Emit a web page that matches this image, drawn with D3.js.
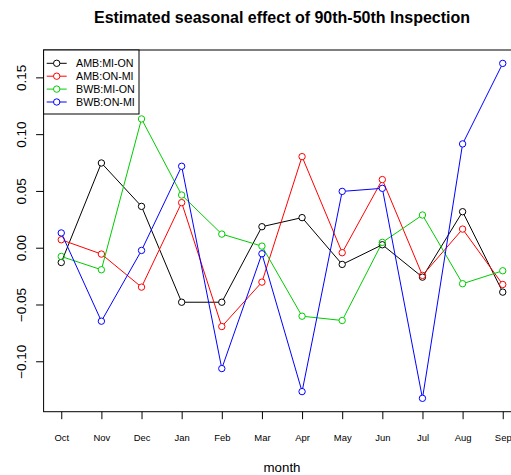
<!DOCTYPE html>
<html>
<head>
<meta charset="utf-8">
<script src="https://cdn.jsdelivr.net/npm/d3@7"></script>
<style>
  body { margin: 0; background: #fff; }
  text { font-family: "Liberation Sans", Arial, sans-serif; }
</style>
</head>
<body>
<div id="chart"></div>
<script>
// Chart data
var months = ["Oct", "Nov", "Dec", "Jan", "Feb", "Mar", "Apr", "May", "Jun", "Jul", "Aug", "Sep"];
var seriesNames = ["AMB:MI-ON", "AMB:ON-MI", "BWB:MI-ON", "BWB:ON-MI"];
var ambMiOn = [-0.013, 0.0746, 0.0364, -0.048, -0.048, 0.0185, 0.0265, -0.0147, 0.0026, -0.0259, 0.0317, -0.0391];
var ambOnMi = [0.007, -0.0056, -0.0347, 0.0397, -0.0694, -0.0303, 0.0802, -0.0044, 0.060, -0.0244, 0.0164, -0.0324];
var bwbMiOn = [-0.0077, -0.0194, 0.1134, 0.0464, 0.012, 0.0014, -0.0603, -0.0641, 0.0047, 0.0288, -0.0317, -0.0203];
var bwbOnMi = [0.013, -0.0647, -0.0024, 0.0717, -0.1064, -0.0053, -0.1267, 0.0496, 0.0523, -0.1326, 0.0914, 0.1623];
var yTicks = [-0.10, -0.05, 0.00, 0.05, 0.10, 0.15];
var colors = ["#000000", "#FF0000", "#00CD00", "#0000FF"];

var allSeries = [ambMiOn, ambOnMi, bwbMiOn, bwbOnMi];

// Chart parameters
var svgWidth = 511;
var svgHeight = 475;
var plot = {left: 43.6, right: 520.4, top: 50, bottom: 411.7};
var radius = 3.2;

var svg = d3.select("#chart")
    .append("svg")
    .attr("width", svgWidth)
    .attr("height", svgHeight);

// R-style axis ranges: pad data range by 4%
var xPad = (months.length - 1) * 0.04;
var xScale = d3.scaleLinear()
    .domain([1 - xPad, months.length + xPad])
    .range([plot.left, plot.right]);

var allValues = d3.merge(allSeries);
var yMin = d3.min(allValues), yMax = d3.max(allValues);
var yPad = (yMax - yMin) * 0.04;
var yScale = d3.scaleLinear()
    .domain([yMin - yPad, yMax + yPad])
    .range([plot.bottom, plot.top]);

// Lines (gaps around the points, like type = "b")
allSeries.forEach(function (vals, si) {
    var g = svg.append("g");
    for (var i = 0; i < vals.length - 1; i++) {
        var x1 = xScale(i + 1), y1 = yScale(vals[i]);
        var x2 = xScale(i + 2), y2 = yScale(vals[i + 1]);
        var len = Math.sqrt((x2 - x1) * (x2 - x1) + (y2 - y1) * (y2 - y1));
        if (len <= 2 * radius) continue;
        var ux = (x2 - x1) / len, uy = (y2 - y1) / len;
        g.append("line")
            .attr("x1", x1 + ux * radius)
            .attr("y1", y1 + uy * radius)
            .attr("x2", x2 - ux * radius)
            .attr("y2", y2 - uy * radius)
            .attr("stroke", colors[si])
            .attr("stroke-width", 1);
    }
    g.selectAll("circle")
        .data(vals)
        .enter()
        .append("circle")
        .attr("cx", (d, i) => xScale(i + 1))
        .attr("cy", d => yScale(d))
        .attr("r", radius)
        .attr("fill", "none")
        .attr("stroke", colors[si])
        .attr("stroke-width", 1);
});

// Plot box
svg.append("rect")
    .attr("x", plot.left)
    .attr("y", plot.top)
    .attr("width", plot.right - plot.left)
    .attr("height", plot.bottom - plot.top)
    .attr("fill", "none")
    .attr("stroke", "#000")
    .attr("stroke-width", 1);

// x axis
var bottomAxis = d3.axisBottom(xScale)
    .tickValues(d3.range(1, months.length + 1))
    .tickFormat(d => months[d - 1])
    .tickSize(7.5)
    .tickSizeOuter(0);

var xAxis = svg.append("g")
    .attr("transform", `translate(0, ${plot.bottom})`)
    .call(bottomAxis);
xAxis.select(".domain").remove();
xAxis.selectAll("text")
    .attr("dy", null)
    .attr("y", 29.3)
    .attr("fill", "#000")
    .style("font-family", "'Liberation Sans', Arial, sans-serif")
    .style("font-size", "9.45px");

// y axis
var leftAxis = d3.axisLeft(yScale)
    .tickValues(yTicks)
    .tickFormat(d3.format(".2f"))
    .tickSize(7.5)
    .tickSizeOuter(0);

var yAxis = svg.append("g")
    .attr("transform", `translate(${plot.left}, 0)`)
    .call(leftAxis);
yAxis.select(".domain").remove();
yAxis.selectAll("text")
    .attr("dy", null)
    .attr("x", null)
    .attr("y", 0)
    .attr("text-anchor", "middle")
    .attr("transform", `translate(${26.5 - plot.left}, 0) rotate(-90)`)
    .attr("fill", "#000")
    .style("font-family", "'Liberation Sans', Arial, sans-serif")
    .style("font-size", "13.5px");

// Title
svg.append("text")
    .attr("x", (plot.left + plot.right) / 2)
    .attr("y", 23)
    .attr("text-anchor", "middle")
    .style("font-weight", "bold")
    .style("font-size", "16px")
    .text("Estimated seasonal effect of 90th-50th Inspection");

// x label
svg.append("text")
    .attr("x", (plot.left + plot.right) / 2)
    .attr("y", 472)
    .attr("text-anchor", "middle")
    .style("font-size", "13.3px")
    .text("month");

// Legend
var legend = svg.append("g");
legend.append("rect")
    .attr("x", plot.left)
    .attr("y", plot.top)
    .attr("width", 139 - plot.left)
    .attr("height", 114 - plot.top)
    .attr("fill", "#fff")
    .attr("stroke", "#000")
    .attr("stroke-width", 1);

seriesNames.forEach(function (name, i) {
    var ly = 63.3 + i * 12.9;
    legend.append("line")
        .attr("x1", 46.7).attr("x2", 66.7)
        .attr("y1", ly).attr("y2", ly)
        .attr("stroke", colors[i]);
    legend.append("circle")
        .attr("cx", 56.7).attr("cy", ly)
        .attr("r", radius)
        .attr("fill", "#fff")
        .attr("stroke", colors[i]);
    legend.append("text")
        .attr("x", 76)
        .attr("y", ly + 3.9)
        .style("font-size", "10.7px")
        .text(name);
});
</script>
</body>
</html>
